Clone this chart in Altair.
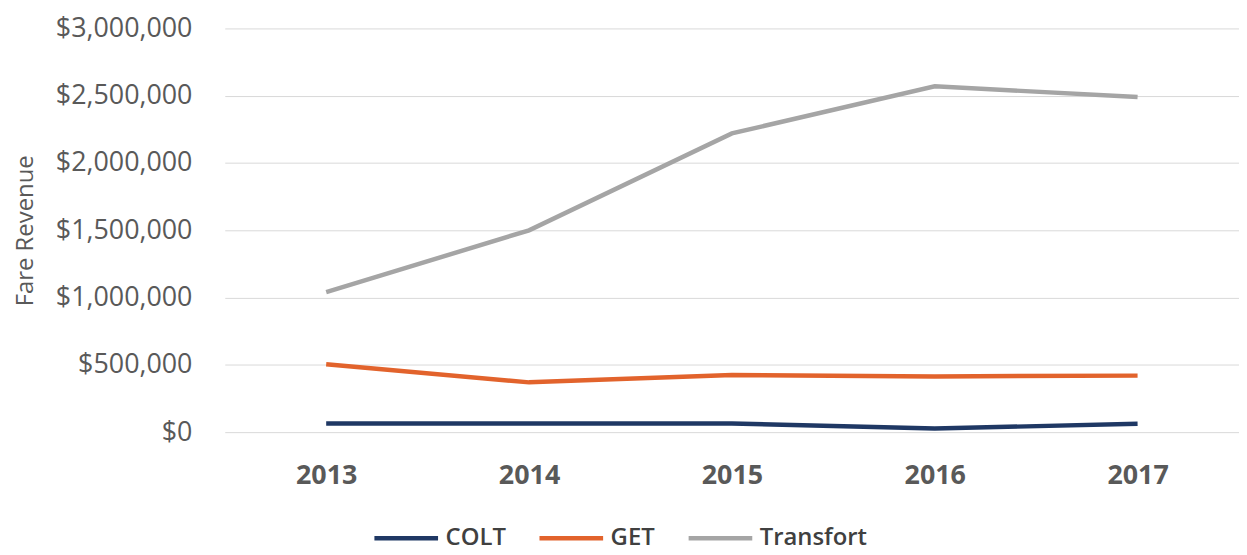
import altair as alt
import pandas as pd

years = ["2013", "2014", "2015", "2016", "2017"]
agencies = ["COLT", "GET", "Transfort"]
colt = [64000, 64000, 64000, 27000, 62000]
get = [505000, 370000, 424000, 414000, 420000]
transfort = [1040000, 1500000, 2220000, 2570000, 2490000]
y_ticks = [0, 500000, 1000000, 1500000, 2000000, 2500000, 3000000]
colors = ["#1f3864", "#e2632c", "#a5a5a5"]

rows = []
for name, vals in zip(agencies, [colt, get, transfort]):
    for yr, v in zip(years, vals):
        rows.append({"Year": yr, "Agency": name, "Revenue": v})
df = pd.DataFrame(rows)

FONT = "Open Sans"

chart = alt.Chart(df).mark_line(strokeWidth=4.5).encode(
    x=alt.X(
        "Year:N",
        sort=years,
        scale=alt.Scale(type="point", padding=0.5),
        axis=alt.Axis(
            title=None, labelAngle=0, domain=False, ticks=False, grid=False,
            labelFont=FONT, labelFontSize=27, labelFontWeight="bold",
            labelColor="#595959", labelPadding=31,
        ),
    ),
    y=alt.Y(
        "Revenue:Q",
        scale=alt.Scale(domain=[0, 3000000]),
        axis=alt.Axis(
            title="Fare Revenue", values=y_ticks, format="$,.0f",
            domain=False, ticks=False, grid=True, gridColor="#d9d9d9", gridWidth=1,
            labelFont=FONT, labelFontSize=27, labelColor="#595959", labelPadding=33,
            titleFont=FONT, titleFontSize=24, titleFontWeight="normal",
            titleColor="#595959", titleX=-200, titleBaseline="middle",
        ),
    ),
    color=alt.Color(
        "Agency:N",
        sort=agencies,
        scale=alt.Scale(domain=agencies, range=colors),
        legend=alt.Legend(
            title=None, orient="none", direction="horizontal",
            legendX=148, legendY=478, padding=0,
            symbolType="stroke", symbolSize=4096, symbolStrokeWidth=4.5,
            labelFont=FONT, labelFontSize=24, labelFontWeight=600,
            labelColor="#404040", labelOffset=5, columnPadding=24,
        ),
    ),
).properties(
    width=1020,
    height=406,
    padding={"left": 218, "top": 19, "right": 0, "bottom": 122},
    autosize=alt.AutoSizeParams(type="none"),
).configure_view(stroke=None)

chart.save("out.html", embed_options={"renderer": "svg", "actions": False})
